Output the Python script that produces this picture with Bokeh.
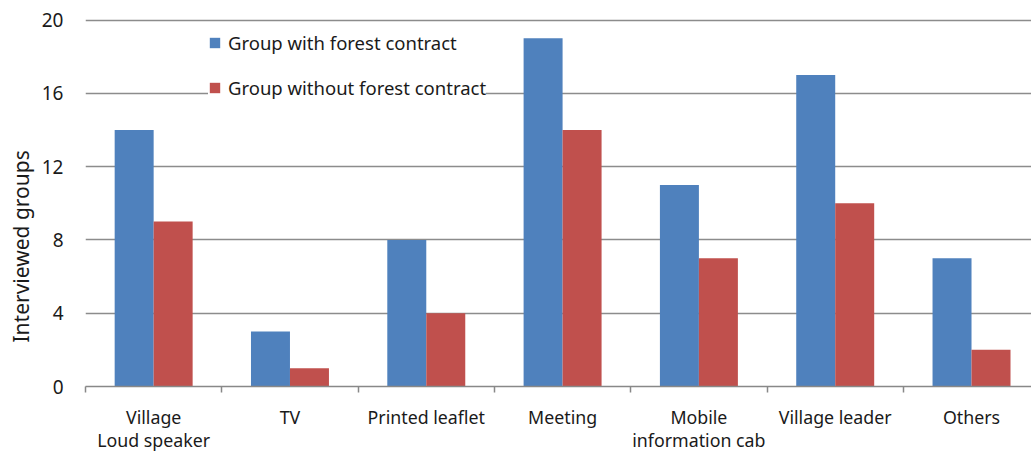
import numpy as np
from bokeh.plotting import figure
from bokeh.models import Range1d, FixedTicker, Legend, LegendItem, ColumnDataSource, Title
from bokeh.embed import file_html
from bokeh.resources import INLINE

categories = ["Village\nLoud speaker", "TV", "Printed leaflet", "Meeting",
              "Mobile\ninformation cab", "Village leader", "Others"]
with_contract = [14, 3, 8, 19, 11, 17, 7]
without_contract = [9, 1, 4, 14, 7, 10, 2]
y_ticks = [0, 4, 8, 12, 16, 20]

BLUE = "#4F81BD"
RED = "#C0504D"
FONT = "Noto Sans"
TXT = "#1a1a1a"

n = len(categories)
centers = np.arange(n) + 0.5
bw = 0.286

p = figure(frame_width=946, frame_height=376, output_backend="svg", toolbar_location=None,
           x_range=Range1d(0, 6.94), y_range=Range1d(0, 20.52),
           min_border_left=85, min_border_right=0, min_border_top=10, min_border_bottom=0)
p.outline_line_color = None
p.background_fill_color = "white"
p.border_fill_color = "white"

src = ColumnDataSource(dict(xb=centers - bw / 2, xr=centers + bw / 2,
                            wc=with_contract, wo=without_contract))
r1 = p.vbar(x="xb", top="wc", width=bw, source=src, fill_color=BLUE, line_color=None)
r2 = p.vbar(x="xr", top="wo", width=bw, source=src, fill_color=RED, line_color=None)

# x axis: boundary tick marks as minor ticks, category labels at centers
xa = p.xaxis[0]
xa.ticker = FixedTicker(ticks=list(centers), minor_ticks=list(range(n + 1)))
xa.major_label_overrides = {float(c): lab for c, lab in zip(centers, categories)}
xa.major_tick_line_color = None
xa.major_tick_out = 0
xa.major_tick_in = 0
xa.minor_tick_line_color = "#888888"
xa.minor_tick_line_width = 1.5
xa.minor_tick_out = 6
xa.minor_tick_in = 0
xa.axis_line_color = "#888888"
xa.axis_line_width = 1.5
xa.major_label_text_font = FONT
xa.major_label_text_font_size = "17.8px"
xa.major_label_text_color = TXT
xa.major_label_text_line_height = 0.97
xa.major_label_standoff = 12
xa.major_label_orientation = "horizontal"

# y axis
ya = p.yaxis[0]
ya.ticker = FixedTicker(ticks=y_ticks)
ya.axis_line_color = None
ya.major_tick_line_color = None
ya.major_tick_out = 0
ya.major_tick_in = 0
ya.minor_tick_line_color = None
ya.major_label_text_font = FONT
ya.major_label_text_font_size = "19px"
ya.major_label_text_color = TXT
ya.major_label_standoff = 22

ylabel = Title(text="Interviewed groups", align="left", offset=40,
               text_font=FONT, text_font_size="21px", text_font_style="normal",
               text_color=TXT, standoff=0, padding=4)
p.add_layout(ylabel, "left")

p.xgrid.grid_line_color = None
p.ygrid.grid_line_color = "#8c8c8c"
p.ygrid.grid_line_width = 1.3
p.ygrid.ticker = FixedTicker(ticks=y_ticks)

legend = Legend(items=[LegendItem(label="Group with forest contract", renderers=[r1]),
                       LegendItem(label="Group without forest contract", renderers=[r2])],
                location=(123, 286), orientation="vertical")
legend.glyph_width = 13
legend.glyph_height = 13
legend.label_text_font = FONT
legend.label_text_font_size = "18.5px"
legend.label_text_color = TXT
legend.label_standoff = 7
legend.spacing = 20
legend.padding = 8
legend.margin = 0
legend.border_line_color = None
legend.background_fill_color = "white"
legend.background_fill_alpha = 1.0
p.add_layout(legend, "center")

open("out.html", "w").write(file_html(p, INLINE))
